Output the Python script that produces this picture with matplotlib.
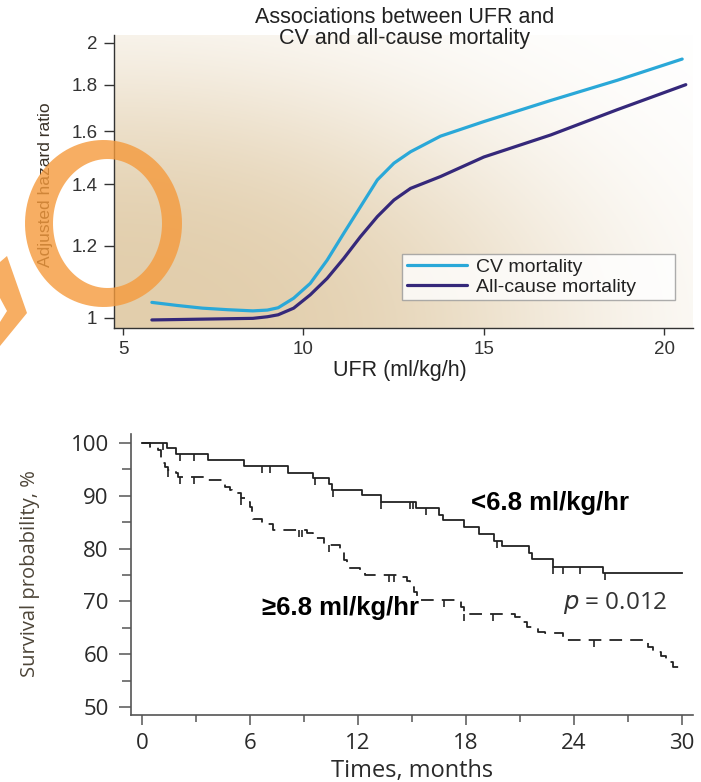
import numpy as np
import matplotlib
matplotlib.use("Agg")
import matplotlib.pyplot as plt
from matplotlib.path import Path
from matplotlib.patches import PathPatch, Polygon

# ---- top panel data: adjusted hazard ratio vs UFR ----
ufr_cv = [5.8, 6.5, 7.2, 7.9, 8.6, 9.0, 9.3, 9.73, 10.19, 10.66, 11.12, 11.58,
          12.05, 12.51, 12.97, 13.8, 15.0, 16.86, 18.7, 20.5]
hr_cv = [1.040, 1.032, 1.025, 1.021, 1.018, 1.020, 1.026, 1.051, 1.091, 1.157,
         1.238, 1.323, 1.416, 1.477, 1.520, 1.581, 1.64, 1.73, 1.82, 1.92]
ufr_all = [5.8, 6.5, 7.2, 7.9, 8.6, 9.0, 9.3, 9.73, 10.19, 10.66, 11.12, 11.58,
           12.05, 12.51, 12.97, 13.8, 15.0, 16.86, 18.7, 20.6]
hr_all = [0.995, 0.996, 0.997, 0.998, 0.999, 1.003, 1.008, 1.025, 1.06, 1.105,
          1.162, 1.227, 1.291, 1.346, 1.386, 1.428, 1.50, 1.586, 1.69, 1.80]
hr_ticks = [1, 1.2, 1.4, 1.6, 1.8, 2]
hr_labels = ["1", "1.2", "1.4", "1.6", "1.8", "2"]
ufr_ticks = [5, 10, 15, 20]

# ---- bottom panel data: Kaplan-Meier ----
t_lo = [0, 1.4, 1.9, 3.65, 5.7, 8.1, 9.5, 10.4, 10.55, 12.2, 13.3, 15.2, 16.5,
        16.7, 17.9, 18.7, 19.55, 20.0, 21.5, 21.65, 22.8, 25.6, 30.0]
s_lo = [100, 99.0, 97.9, 96.8, 95.6, 94.4, 93.4, 92.3, 91.1, 90.1, 88.9, 87.6,
        86.4, 85.4, 84.1, 82.8, 81.5, 80.5, 79.1, 78.0, 76.6, 75.3, 75.3]
cens_lo = [1.2, 2.1, 2.9, 6.65, 7.1, 9.6, 10.6, 13.3, 14.9, 15.05, 15.8, 19.7,
           22.8, 23.4, 24.3, 25.7]

t_hi = [0, 0.45, 0.9, 1.05, 1.15, 1.3, 1.45, 1.9, 2.0, 3.5, 4.6, 4.9, 5.0, 5.5,
        5.9, 6.0, 6.1, 6.2, 6.7, 7.3, 9.15, 9.5, 10.1, 11.0, 11.2, 11.4, 12.1,
        12.4, 14.3, 14.7, 14.9, 15.1, 15.3, 15.5, 17.7, 17.9, 20.7, 21.0, 21.4,
        22.0, 22.4, 23.4, 28.1, 28.4, 28.8, 29.1, 29.5, 29.8, 30.0]
s_hi = [100, 99.3, 98.7, 97.2, 96.2, 95.5, 94.9, 94.3, 93.6, 92.9, 91.7, 91.1,
        90.5, 89.5, 88.9, 87.9, 86.7, 85.7, 84.7, 83.5, 82.9, 82.1, 80.7, 79.4,
        77.8, 76.4, 75.9, 75.1, 74.7, 73.8, 72.8, 71.8, 70.9, 70.3, 69.0, 67.6,
        67.1, 66.2, 65.2, 64.3, 64.0, 62.7, 61.4, 60.5, 59.6, 58.6, 57.6, 57.0,
        56.8]
cens_hi = [1.45, 2.1, 2.9, 5.5, 8.7, 8.9, 10.4, 13.7, 14.0, 16.8, 17.9, 19.5,
           25.1]

W, H = 701, 782
fig = plt.figure(figsize=(W / 100, H / 100), dpi=100)
fig.patch.set_facecolor("white")
plt.rcParams["mathtext.fontset"] = "dejavusans"


def px_rect(l, t, r, b):
    return [l / W, 1 - b / H, (r - l) / W, (b - t) / H]


# ---------------- top panel ----------------
top_rect = px_rect(114, 35, 693, 328)
bg = fig.add_axes(top_rect, zorder=0)
gy, gx = np.mgrid[0:1:200j, 0:1:300j]
r2 = (gx / 0.8) ** 2 + (gy / 0.9) ** 2
w = np.exp(-r2 ** 1.5)
tan = np.array([226, 206, 172]) / 255
img = 1 - w[..., None] * (1 - tan)
bg.imshow(img, origin="lower", extent=[0, 1, 0, 1], aspect="auto")
bg.axis("off")

ax1 = fig.add_axes(top_rect, zorder=1)
ax1.set_facecolor("none")
ax1.plot(ufr_cv, hr_cv, color="#2aa8d8", lw=2.3, label="CV mortality",
         solid_capstyle="round")
ax1.plot(ufr_all, hr_all, color="#35287a", lw=2.3, label="All-cause mortality",
         solid_capstyle="round")
ax1.set_yscale("log")
ax1.set_ylim(0.975, 2.04)
ax1.set_xlim(4.75, 20.8)
ax1.set_yticks(hr_ticks)
ax1.set_yticklabels(hr_labels)
ax1.yaxis.set_minor_locator(matplotlib.ticker.NullLocator())
ax1.set_xticks(ufr_ticks)
for s in ["top", "right"]:
    ax1.spines[s].set_visible(False)
for s in ["left", "bottom"]:
    ax1.spines[s].set_color("#333333")
    ax1.spines[s].set_linewidth(1.0)
ax1.tick_params(axis="y", length=7, width=1, color="#333333", pad=5,
                labelsize=13.5, labelcolor="#333333")
ax1.tick_params(axis="x", length=5, width=1, color="#333333", pad=4,
                labelsize=13.5, labelcolor="#333333")
for lab in ax1.get_xticklabels() + ax1.get_yticklabels():
    lab.set_family("Liberation Sans")

leg = ax1.legend(loc="lower left", bbox_to_anchor=(0.497, 0.094, 0.472, 0.172),
                 mode="expand", frameon=True, fancybox=False,
                 handlelength=3.1, handletextpad=0.45, borderaxespad=0,
                 borderpad=0.25, labelspacing=0.1,
                 prop={"family": "Liberation Sans", "size": 14})
leg.get_frame().set_edgecolor("#999999")
leg.get_frame().set_linewidth(1.0)
for t in leg.get_texts():
    t.set_color("#222222")

fig.text(405 / W, 1 - 23 / H, "Associations between UFR and",
         ha="center", va="baseline", fontsize=15.5, family="Liberation Sans",
         color="#222222")
fig.text(405 / W, 1 - 44 / H, "CV and all-cause mortality",
         ha="center", va="baseline", fontsize=15.5, family="Liberation Sans",
         color="#222222")
fig.text(46 / W, 1 - 185 / H, "Adjusted hazard ratio", rotation=90,
         ha="center", va="center", fontsize=12.5, family="Liberation Sans",
         color="#3a3228")
fig.text(400 / W, 1 - 370 / H, "UFR (ml/kg/h)", ha="center", va="center",
         fontsize=15.5, family="Liberation Sans", color="#222222")

# ---------------- bottom panel ----------------
ax2 = fig.add_axes(px_rect(131, 434, 693, 715))


def step_val(times, surv, c):
    i = np.searchsorted(times, c, side="right") - 1
    return surv[i]


ax2.step(t_lo, s_lo, where="post", color="#222222", lw=1.3)
ax2.step(t_hi, s_hi, where="post", color="#222222", lw=1.3,
         linestyle=(0, (7, 4.5)))
ax2.plot(cens_lo, [step_val(t_lo, s_lo, c) for c in cens_lo], linestyle="none",
         marker=3, markersize=5, markeredgewidth=1.2, color="#222222")
ax2.plot(cens_hi, [step_val(t_hi, s_hi, c) for c in cens_hi], linestyle="none",
         marker=3, markersize=5, markeredgewidth=1.2, color="#222222")

ax2.set_xlim(-0.6, 30.6)
ax2.set_ylim(48.5, 101.7)
ax2.set_xticks([0, 6, 12, 18, 24, 30])
ax2.set_xticks([3, 9, 15, 21, 27], minor=True)
ax2.set_yticks([50, 60, 70, 80, 90, 100])
ax2.set_yticks([55, 65, 75, 85, 95], minor=True)
for s in ["top", "right"]:
    ax2.spines[s].set_visible(False)
for s in ["left", "bottom"]:
    ax2.spines[s].set_color("#555555")
    ax2.spines[s].set_linewidth(1.2)
ax2.tick_params(axis="y", which="major", length=9, width=1.1, color="#555555",
                pad=7, labelsize=16, labelcolor="#2a2a2a")
ax2.tick_params(axis="y", which="minor", length=6.5, width=1.1,
                color="#555555")
ax2.tick_params(axis="x", which="major", length=7, width=1.1, color="#555555",
                pad=6, labelsize=16, labelcolor="#2a2a2a")
ax2.tick_params(axis="x", which="minor", length=5, width=1.1, color="#555555")
for lab in ax2.get_xticklabels() + ax2.get_yticklabels():
    lab.set_family("Open Sans")
fig.text(412 / W, 1 - 777 / H, "Times, months", ha="center", va="baseline",
         fontsize=17, family="Open Sans", color="#2a2a2a")
fig.text(30 / W, 1 - 574 / H, "Survival probability, %", rotation=90,
         ha="center", va="center", fontsize=14.5, family="Open Sans",
         color="#4d4538")

ax2.text(18.3, 88.6, "<6.8 ml/kg/hr", fontsize=18.5, fontweight="bold",
         family="Liberation Sans", ha="left", va="center", color="black")
ax2.text(6.7, 68.75, "\u22656.8 ml/kg/hr", fontsize=18.5, fontweight="bold",
         family="Liberation Sans", ha="left", va="center", color="black")
ax2.text(23.4, 69.7, "$p$ = 0.012", fontsize=17.5, family="Open Sans",
         ha="left", va="center", color="#333333")

# ---------------- orange annotation overlay ----------------
ov = fig.add_axes([0, 0, 1, 1], zorder=10)
ov.set_xlim(0, W)
ov.set_ylim(H, 0)
ov.axis("off")
ov.patch.set_alpha(0)

ang = np.linspace(0, 2 * np.pi, 120)
outer = np.column_stack([103.5 + 78.5 * np.cos(ang), 223.5 + 83.5 * np.sin(ang)])
inner = np.column_stack([107.5 + 54.5 * np.cos(ang), 223.5 + 64.5 * np.sin(ang)])[::-1]
verts = np.vstack([outer, inner])
codes = ([Path.MOVETO] + [Path.LINETO] * (len(outer) - 1)
         + [Path.MOVETO] + [Path.LINETO] * (len(inner) - 1))
ring = PathPatch(Path(verts, codes), facecolor="#f59a3c", edgecolor="none",
                 alpha=0.8)
ov.add_patch(ring)
chev = Polygon([(0, 262), (7, 256), (27, 313), (0, 346), (0, 322), (7, 311),
                (0, 298)], closed=True, facecolor="#f59a3c", edgecolor="none",
               alpha=0.8)
ov.add_patch(chev)

fig.savefig("out.png", dpi=100, facecolor="white")
